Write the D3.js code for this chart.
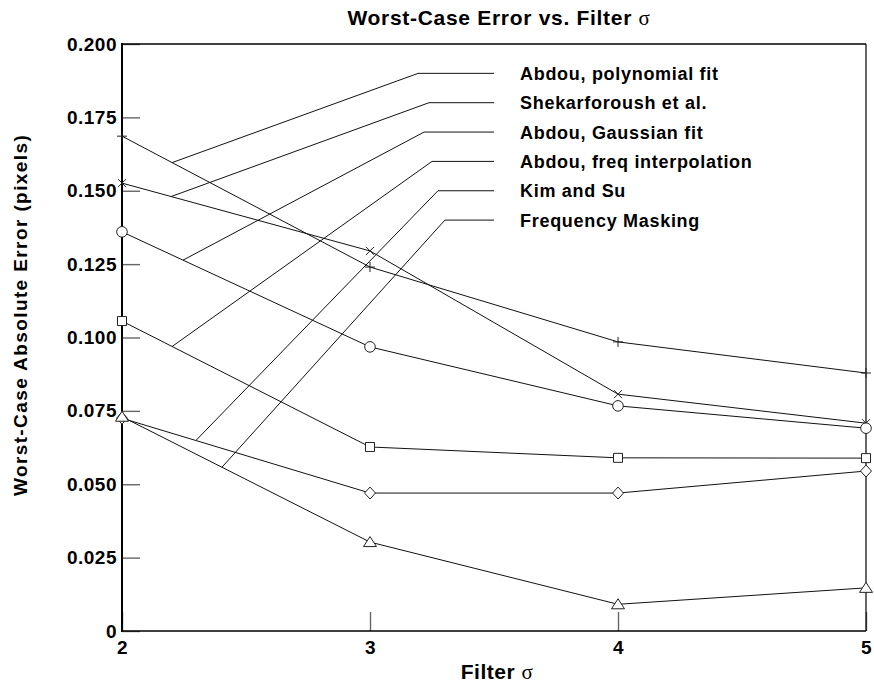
<!DOCTYPE html>
<meta charset="utf-8">
<style>
 body { margin: 0; background: #fff; }
 svg { display: block; font-family: "Liberation Sans", Arial, Helvetica, sans-serif; font-weight: bold; }
 .axis path.domain { display: none; }
 .axis line { stroke: #666; stroke-width: 1.4; }
 .axis text { font-size: 19px; letter-spacing: 0.5px; fill: #000; }
 .series { fill: none; stroke: #111; stroke-width: 1; }
 .leader { fill: none; stroke: #111; stroke-width: 1; }
 .marker { fill: #fff; stroke: #222; stroke-width: 1; }
 .legend text { font-size: 18px; letter-spacing: 0.7px; }
 .sig { font-family: "Liberation Serif", "DejaVu Serif", serif; font-weight: normal; }
</style>
<body>
<svg width="874" height="684"></svg>
<script src="https://d3js.org/d3.v7.min.js"></script>
<script>

 // filter sigma values on the x axis
 var sigma = [2, 3, 4, 5];

 // worst-case absolute error (pixels)
 var polyFit    = [0.1686, 0.1240, 0.0985, 0.0879];
 var shekar     = [0.1526, 0.1295, 0.0807, 0.0708];
 var gaussFit   = [0.1360, 0.0968, 0.0767, 0.0691];
 var freqInterp = [0.1056, 0.0627, 0.0590, 0.0589];
 var kimSu      = [0.0725, 0.0470, 0.0470, 0.0545];
 var freqMask   = [0.0730, 0.0303, 0.0091, 0.0147];

 var seriesNames = ['Abdou, polynomial fit', 'Shekarforoush et al.', 'Abdou, Gaussian fit',
                    'Abdou, freq interpolation', 'Kim and Su', 'Frequency Masking'];
 var seriesMarks = ['plus', 'x', 'circle', 'square', 'diamond', 'triangle'];

 // legend leaders, in data units: where they touch the curve, where they bend, label rows
 var leaderAttach = [2.202, 2.198, 2.246, 2.202, 2.298, 2.403];
 var leaderBend   = [3.194, 3.238, 3.218, 3.250, 3.274, 3.302];
 var leaderRow    = [0.190, 0.180, 0.170, 0.160, 0.150, 0.140];
 var leaderEnd = 3.5, labelAt = 3.605;

 var yTicks = [0, 0.025, 0.05, 0.075, 0.1, 0.125, 0.15, 0.175, 0.2];
 var xTicks = [2, 3, 4, 5];

 var allSeries = [polyFit, shekar, gaussFit, freqInterp, kimSu, freqMask];

 var svg = d3.select("svg"),
     margin = {top: 44, right: 8, bottom: 53, left: 122},
     width = +svg.attr("width") - margin.left - margin.right,
     height = +svg.attr("height") - margin.top - margin.bottom;

 var x = d3.scaleLinear().domain([2, 5]).range([margin.left, margin.left + width]);
 var y = d3.scaleLinear().domain([0, 0.2]).range([margin.top + height, margin.top]);

 // axes with inward ticks
 svg.append("g")
    .attr("class", "axis")
    .attr("transform", "translate(" + margin.left + ",0)")
    .call(d3.axisLeft(y).tickValues(yTicks).tickSize(-18).tickPadding(5)
            .tickFormat(function(d) { return d === 0 ? "0" : d3.format(".3f")(d); }));

 svg.append("g")
    .attr("class", "axis")
    .attr("transform", "translate(0," + (margin.top + height) + ")")
    .call(d3.axisBottom(x).tickValues(xTicks).tickSize(-19).tickPadding(10).tickFormat(d3.format("d")));

 // frame
 var x0 = x(2), x1 = x(5), y0 = y(0), y1 = y(0.2);
 svg.append("line").attr("x1", x0).attr("x2", x1).attr("y1", y1).attr("y2", y1).style("stroke", "#000").style("stroke-width", 1.7);
 svg.append("line").attr("x1", x1).attr("x2", x1).attr("y1", y1).attr("y2", y0).style("stroke", "#000").style("stroke-width", 1.2);
 svg.append("line").attr("x1", x0).attr("x2", x1).attr("y1", y0).attr("y2", y0).style("stroke", "#000").style("stroke-width", 1.6);
 svg.append("line").attr("x1", x0).attr("x2", x0).attr("y1", y1 - 1).attr("y2", y0 + 1).style("stroke", "#000").style("stroke-width", 2);

 // leaders and labels
 var legend = svg.append("g").attr("class", "legend");
 allSeries.forEach(function(vals, i) {
     var f = d3.scaleLinear().domain(sigma).range(vals);
     var pts = [[x(leaderAttach[i]), y(f(leaderAttach[i]))],
                [x(leaderBend[i]), y(leaderRow[i])],
                [x(leaderEnd), y(leaderRow[i])]];
     legend.append("path").attr("class", "leader").attr("d", d3.line()(pts));
     legend.append("text")
           .attr("x", x(labelAt))
           .attr("y", y(leaderRow[i]))
           .attr("dy", "0.36em")
           .text(seriesNames[i]);
 });

 // series lines
 var line = d3.line().x(function(d, i) { return x(sigma[i]); }).y(function(d) { return y(d); });
 allSeries.forEach(function(vals) {
     svg.append("path").attr("class", "series").attr("d", line(vals));
 });

 function markPath(kind) {
     switch (kind) {
     case 'plus': return "M-5,0H5M0,-5V5";
     case 'x': return "M-4,-4L4,4M-4,4L4,-4";
     case 'circle': return "M5.3,0A5.3,5.3 0 1,1 -5.3,0A5.3,5.3 0 1,1 5.3,0Z";
     case 'square': return "M-4.5,-4.5H4.5V4.5H-4.5Z";
     case 'diamond': return "M0,-6L5.5,0L0,6L-5.5,0Z";
     case 'triangle': return "M0,-5.5L6.5,4.5H-6.5Z";
     }
 }

 allSeries.forEach(function(vals, i) {
     svg.append("g").selectAll("path")
        .data(vals).enter().append("path")
        .attr("class", "marker")
        .style("fill", seriesMarks[i] === 'plus' || seriesMarks[i] === 'x' ? "none" : "#fff")
        .attr("transform", function(d, j) { return "translate(" + x(sigma[j]) + "," + y(d) + ")"; })
        .attr("d", markPath(seriesMarks[i]));
 });

 // title and axis labels
 var title = svg.append("text")
    .attr("x", 499).attr("y", 25)
    .attr("text-anchor", "middle")
    .style("font-size", "21px").style("letter-spacing", "0.7px")
    .text("Worst-Case Error vs. Filter ");
 title.append("tspan").attr("class", "sig").text("σ");

 var xl = svg.append("text")
    .attr("x", 497).attr("y", 679)
    .attr("text-anchor", "middle")
    .style("font-size", "21px").style("letter-spacing", "0.5px")
    .text("Filter ");
 xl.append("tspan").attr("class", "sig").text("σ");

 svg.append("text")
    .attr("transform", "translate(27,315) rotate(-90)")
    .attr("text-anchor", "middle")
    .style("font-size", "19px").style("letter-spacing", "1.4px")
    .text("Worst-Case Absolute Error (pixels)");

</script>
</body>
